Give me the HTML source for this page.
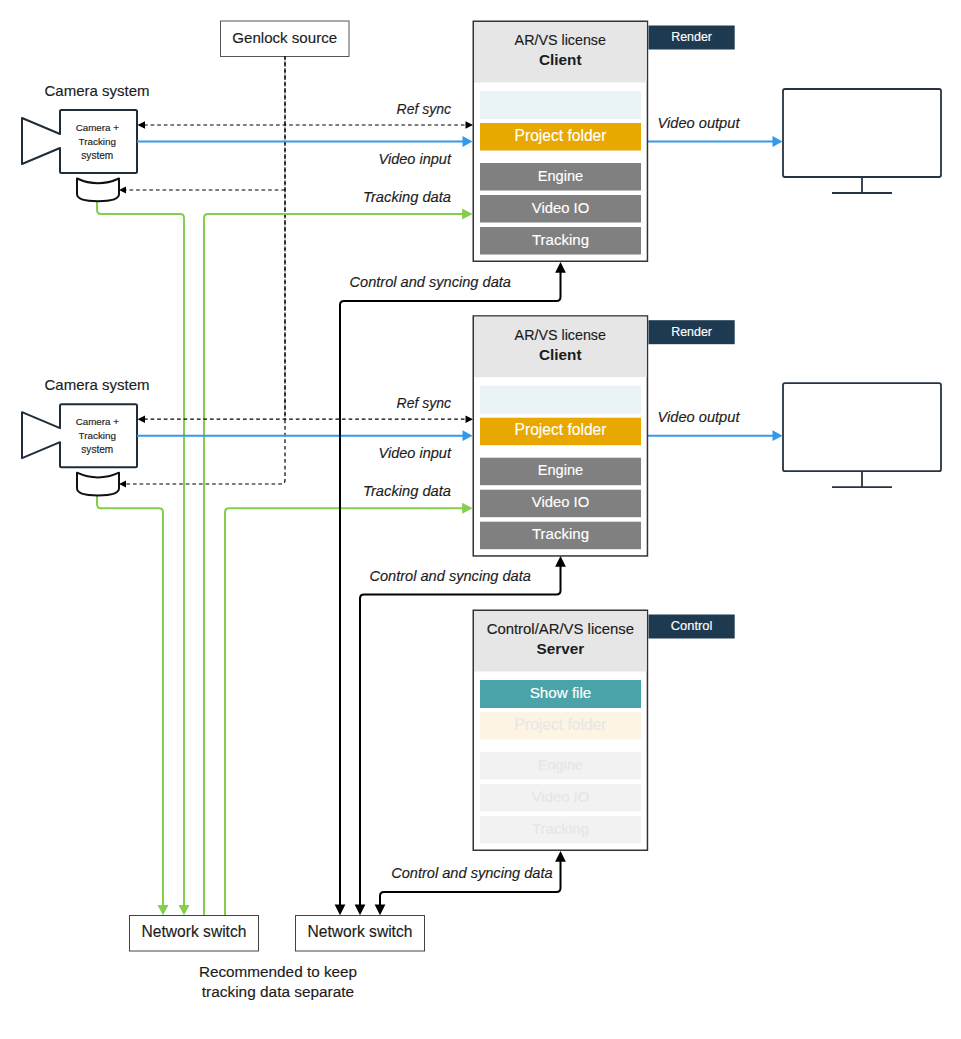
<!DOCTYPE html><html><head><meta charset="utf-8"><style>html,body{margin:0;padding:0;background:#fff;}svg{display:block;font-family:"Liberation Sans", sans-serif;}</style></head><body>
<svg width="961" height="1039" viewBox="0 0 961 1039">
<rect width="961" height="1039" fill="#fff"/>
<rect x="220.5" y="21" width="128.5" height="35.5" fill="#fff" stroke="#555" stroke-width="1"/>
<text x="284.7" y="42.5" font-size="15.1" text-anchor="middle" font-weight="normal" fill="#1c1c1c" stroke="#1c1c1c" stroke-width="0.15">Genlock source</text>
<path d="M285,56.5 L285,480 Q285,484 281,484 L126,484" fill="none" stroke="#000" stroke-width="1.2" stroke-dasharray="3.7 2.9"/>
<path d="M285,56.5 L285,419.5" fill="none" stroke="#000" stroke-width="1.2" stroke-dasharray="3.7 2.9" stroke-dashoffset="1.5"/>
<line x1="285" y1="190" x2="126" y2="190" stroke="#000" stroke-width="1.2" stroke-dasharray="3.7 2.9"/>
<polygon points="119.00,190.00 126.00,186.50 126.00,193.50" fill="#000"/>
<polygon points="119.00,484.00 126.00,480.50 126.00,487.50" fill="#000"/>
<path d="M97,201 L97,210 Q97,214 101,214 L180,214 Q184,214 184,218 L184,905" fill="none" stroke="#83cf4a" stroke-width="2" stroke-linejoin="round"/>
<polygon points="184.00,915.30 178.50,904.90 189.50,904.90" fill="#83cf4a"/>
<path d="M204,915 L204,218 Q204,214 208,214 L463,214" fill="none" stroke="#83cf4a" stroke-width="2" stroke-linejoin="round"/>
<polygon points="472.50,214.00 462.10,208.50 462.10,219.50" fill="#83cf4a"/>
<path d="M97,495 L97,504.2 Q97,508.2 101,508.2 L159,508.2 Q163,508.2 163,512.2 L163,905" fill="none" stroke="#83cf4a" stroke-width="2" stroke-linejoin="round"/>
<polygon points="163.00,915.30 157.50,904.90 168.50,904.90" fill="#83cf4a"/>
<path d="M225,915 L225,512.2 Q225,508.2 229,508.2 L463,508.2" fill="none" stroke="#83cf4a" stroke-width="2" stroke-linejoin="round"/>
<polygon points="472.50,508.20 462.10,502.70 462.10,513.70" fill="#83cf4a"/>
<text x="97" y="95.6" font-size="15.0" text-anchor="middle" font-weight="normal" fill="#1c1c1c" stroke="#1c1c1c" stroke-width="0.15">Camera system</text>
<path d="M60,134 L60,111.5 Q60,110 61.5,110 L135.5,110 Q137,110 137,111.5 L137,171.5 Q137,173 135.5,173 L61.5,173 Q60,173 60,171.5 L60,148 L22,164 L22,118 Z" fill="#fff" stroke="#1f2d3a" stroke-width="2" stroke-linejoin="round"/>
<text x="97.3" y="130.8" font-size="9.8" text-anchor="middle" font-weight="normal" fill="#1c1c1c" stroke="#1c1c1c" stroke-width="0.15">Camera +</text>
<text x="97.3" y="144.6" font-size="9.9" text-anchor="middle" font-weight="normal" fill="#1c1c1c" stroke="#1c1c1c" stroke-width="0.15">Tracking</text>
<text x="97.3" y="158.5" font-size="10.1" text-anchor="middle" font-weight="normal" fill="#1c1c1c" stroke="#1c1c1c" stroke-width="0.15">system</text>
<path d="M77,178.5 Q98,188 119,178.5 L119,194 C119,199.5 110,201.2 98,201.2 C86,201.2 77,199.5 77,194 Z" fill="#fff" stroke="#111" stroke-width="2" stroke-linejoin="round"/>
<rect x="783" y="89" width="158" height="88" rx="2" fill="#fff" stroke="#263340" stroke-width="1.8"/>
<line x1="862" y1="177" x2="862" y2="193" stroke="#263340" stroke-width="1.8"/>
<line x1="832" y1="193" x2="892" y2="193" stroke="#263340" stroke-width="1.8"/>
<line x1="137" y1="141.5" x2="463" y2="141.5" stroke="#3399ea" stroke-width="2"/>
<polygon points="472.50,141.50 462.50,136.10 462.50,146.90" fill="#3399ea"/>
<line x1="648" y1="141.5" x2="773" y2="141.5" stroke="#3399ea" stroke-width="2"/>
<polygon points="782.50,141.50 772.50,136.10 772.50,146.90" fill="#3399ea"/>
<line x1="144" y1="125" x2="465" y2="125" stroke="#000" stroke-width="1.2" stroke-dasharray="3.7 2.9"/>
<polygon points="137.50,125.00 145.00,121.25 145.00,128.75" fill="#000"/>
<polygon points="473.00,125.00 465.50,121.25 465.50,128.75" fill="#000"/>
<text x="451" y="114" font-size="14.0" text-anchor="end" font-weight="normal" fill="#1c1c1c" font-style="italic" stroke="#1c1c1c" stroke-width="0.15">Ref sync</text>
<text x="451" y="163.7" font-size="14.55" text-anchor="end" font-weight="normal" fill="#1c1c1c" font-style="italic" stroke="#1c1c1c" stroke-width="0.15">Video input</text>
<text x="451" y="201.6" font-size="14.7" text-anchor="end" font-weight="normal" fill="#1c1c1c" font-style="italic" stroke="#1c1c1c" stroke-width="0.15">Tracking data</text>
<text x="657.5" y="127.7" font-size="14.65" text-anchor="start" font-weight="normal" fill="#1c1c1c" font-style="italic" stroke="#1c1c1c" stroke-width="0.15">Video output</text>
<text x="97" y="389.79999999999995" font-size="15.0" text-anchor="middle" font-weight="normal" fill="#1c1c1c" stroke="#1c1c1c" stroke-width="0.15">Camera system</text>
<path d="M60,428.2 L60,405.7 Q60,404.2 61.5,404.2 L135.5,404.2 Q137,404.2 137,405.7 L137,465.7 Q137,467.2 135.5,467.2 L61.5,467.2 Q60,467.2 60,465.7 L60,442.2 L22,458.2 L22,412.2 Z" fill="#fff" stroke="#1f2d3a" stroke-width="2" stroke-linejoin="round"/>
<text x="97.3" y="425.0" font-size="9.8" text-anchor="middle" font-weight="normal" fill="#1c1c1c" stroke="#1c1c1c" stroke-width="0.15">Camera +</text>
<text x="97.3" y="438.79999999999995" font-size="9.9" text-anchor="middle" font-weight="normal" fill="#1c1c1c" stroke="#1c1c1c" stroke-width="0.15">Tracking</text>
<text x="97.3" y="452.7" font-size="10.1" text-anchor="middle" font-weight="normal" fill="#1c1c1c" stroke="#1c1c1c" stroke-width="0.15">system</text>
<path d="M77,472.7 Q98,482.2 119,472.7 L119,488.2 C119,493.7 110,495.4 98,495.4 C86,495.4 77,493.7 77,488.2 Z" fill="#fff" stroke="#111" stroke-width="2" stroke-linejoin="round"/>
<rect x="783" y="383.2" width="158" height="88" rx="2" fill="#fff" stroke="#263340" stroke-width="1.8"/>
<line x1="862" y1="471.2" x2="862" y2="487.2" stroke="#263340" stroke-width="1.8"/>
<line x1="832" y1="487.2" x2="892" y2="487.2" stroke="#263340" stroke-width="1.8"/>
<line x1="137" y1="435.7" x2="463" y2="435.7" stroke="#3399ea" stroke-width="2"/>
<polygon points="472.50,435.70 462.50,430.30 462.50,441.10" fill="#3399ea"/>
<line x1="648" y1="435.7" x2="773" y2="435.7" stroke="#3399ea" stroke-width="2"/>
<polygon points="782.50,435.70 772.50,430.30 772.50,441.10" fill="#3399ea"/>
<line x1="144" y1="419.2" x2="465" y2="419.2" stroke="#000" stroke-width="1.2" stroke-dasharray="3.7 2.9"/>
<polygon points="137.50,419.20 145.00,415.45 145.00,422.95" fill="#000"/>
<polygon points="473.00,419.20 465.50,415.45 465.50,422.95" fill="#000"/>
<text x="451" y="408.2" font-size="14.0" text-anchor="end" font-weight="normal" fill="#1c1c1c" font-style="italic" stroke="#1c1c1c" stroke-width="0.15">Ref sync</text>
<text x="451" y="457.9" font-size="14.55" text-anchor="end" font-weight="normal" fill="#1c1c1c" font-style="italic" stroke="#1c1c1c" stroke-width="0.15">Video input</text>
<text x="451" y="495.79999999999995" font-size="14.7" text-anchor="end" font-weight="normal" fill="#1c1c1c" font-style="italic" stroke="#1c1c1c" stroke-width="0.15">Tracking data</text>
<text x="657.5" y="421.9" font-size="14.65" text-anchor="start" font-weight="normal" fill="#1c1c1c" font-style="italic" stroke="#1c1c1c" stroke-width="0.15">Video output</text>
<rect x="473.25" y="21.25" width="174.20000000000005" height="240.0" fill="#fff" stroke="#333" stroke-width="1.5"/>
<rect x="474.0" y="22.0" width="172.70000000000005" height="60.5" fill="#e6e6e6"/>
<text x="560.3" y="45.0" font-size="14.3" text-anchor="middle" font-weight="normal" fill="#1c1c1c" stroke="#1c1c1c" stroke-width="0.15">AR/VS license</text>
<text x="560.3" y="64.8" font-size="15.3" text-anchor="middle" font-weight="bold" fill="#1c1c1c">Client</text>
<rect x="648.5" y="25.5" width="86.2" height="24" fill="#1e3a50"/>
<text x="691.6" y="40.8" font-size="12.45" text-anchor="middle" font-weight="normal" fill="#ffffff" stroke="#ffffff" stroke-width="0.15">Render</text>
<rect x="480" y="91.0" width="161" height="28" fill="#eaf3f5"/>
<rect x="480" y="123.0" width="161" height="27.5" fill="#e9a800"/>
<text x="560.5" y="140.7" font-size="15.6" text-anchor="middle" font-weight="normal" fill="#ffffff" stroke="#ffffff" stroke-width="0.15">Project folder</text>
<rect x="480" y="163.0" width="161" height="27.5" fill="#808080"/>
<text x="560.5" y="180.7" font-size="14.6" text-anchor="middle" font-weight="normal" fill="#ffffff" stroke="#ffffff" stroke-width="0.15">Engine</text>
<rect x="480" y="195.0" width="161" height="27.5" fill="#808080"/>
<text x="560.5" y="212.7" font-size="14.85" text-anchor="middle" font-weight="normal" fill="#ffffff" stroke="#ffffff" stroke-width="0.15">Video IO</text>
<rect x="480" y="227.0" width="161" height="27.5" fill="#808080"/>
<text x="560.5" y="244.7" font-size="15.0" text-anchor="middle" font-weight="normal" fill="#ffffff" stroke="#ffffff" stroke-width="0.15">Tracking</text>
<rect x="473.25" y="315.95" width="174.20000000000005" height="240.0" fill="#fff" stroke="#333" stroke-width="1.5"/>
<rect x="474.0" y="316.7" width="172.70000000000005" height="60.5" fill="#e6e6e6"/>
<text x="560.3" y="339.7" font-size="14.3" text-anchor="middle" font-weight="normal" fill="#1c1c1c" stroke="#1c1c1c" stroke-width="0.15">AR/VS license</text>
<text x="560.3" y="359.5" font-size="15.3" text-anchor="middle" font-weight="bold" fill="#1c1c1c">Client</text>
<rect x="648.5" y="320.2" width="86.2" height="24" fill="#1e3a50"/>
<text x="691.6" y="335.5" font-size="12.45" text-anchor="middle" font-weight="normal" fill="#ffffff" stroke="#ffffff" stroke-width="0.15">Render</text>
<rect x="480" y="385.7" width="161" height="28" fill="#eaf3f5"/>
<rect x="480" y="417.7" width="161" height="27.5" fill="#e9a800"/>
<text x="560.5" y="435.4" font-size="15.6" text-anchor="middle" font-weight="normal" fill="#ffffff" stroke="#ffffff" stroke-width="0.15">Project folder</text>
<rect x="480" y="457.7" width="161" height="27.5" fill="#808080"/>
<text x="560.5" y="475.4" font-size="14.6" text-anchor="middle" font-weight="normal" fill="#ffffff" stroke="#ffffff" stroke-width="0.15">Engine</text>
<rect x="480" y="489.7" width="161" height="27.5" fill="#808080"/>
<text x="560.5" y="507.4" font-size="14.85" text-anchor="middle" font-weight="normal" fill="#ffffff" stroke="#ffffff" stroke-width="0.15">Video IO</text>
<rect x="480" y="521.7" width="161" height="27.5" fill="#808080"/>
<text x="560.5" y="539.4000000000001" font-size="15.0" text-anchor="middle" font-weight="normal" fill="#ffffff" stroke="#ffffff" stroke-width="0.15">Tracking</text>
<rect x="473.25" y="610.25" width="174.20000000000005" height="240.0" fill="#fff" stroke="#333" stroke-width="1.5"/>
<rect x="474.0" y="611.0" width="172.70000000000005" height="60.5" fill="#e6e6e6"/>
<text x="560.3" y="634.0" font-size="14.9" text-anchor="middle" font-weight="normal" fill="#1c1c1c" stroke="#1c1c1c" stroke-width="0.15">Control/AR/VS license</text>
<text x="560.3" y="653.8" font-size="15.3" text-anchor="middle" font-weight="bold" fill="#1c1c1c">Server</text>
<rect x="648.5" y="614.5" width="86.2" height="24" fill="#1e3a50"/>
<text x="691.6" y="629.8" font-size="12.9" text-anchor="middle" font-weight="normal" fill="#ffffff" stroke="#ffffff" stroke-width="0.15">Control</text>
<rect x="480" y="680.0" width="161" height="28" fill="#4aa3a8"/>
<text x="560.5" y="697.7" font-size="15.2" text-anchor="middle" font-weight="normal" fill="#ffffff" stroke="#ffffff" stroke-width="0.15">Show file</text>
<rect x="480" y="712.0" width="161" height="27.5" fill="#fdf4e4"/>
<text x="560.5" y="729.7" font-size="15.6" text-anchor="middle" font-weight="normal" fill="#e8e8e8" stroke="#e8e8e8" stroke-width="0.15">Project folder</text>
<rect x="480" y="752.0" width="161" height="27.5" fill="#f2f2f2"/>
<text x="560.5" y="769.7" font-size="14.6" text-anchor="middle" font-weight="normal" fill="#e6e6e6" stroke="#e6e6e6" stroke-width="0.15">Engine</text>
<rect x="480" y="784.0" width="161" height="27.5" fill="#f2f2f2"/>
<text x="560.5" y="801.7" font-size="14.85" text-anchor="middle" font-weight="normal" fill="#e6e6e6" stroke="#e6e6e6" stroke-width="0.15">Video IO</text>
<rect x="480" y="816.0" width="161" height="27.5" fill="#f2f2f2"/>
<text x="560.5" y="833.7" font-size="15.0" text-anchor="middle" font-weight="normal" fill="#e6e6e6" stroke="#e6e6e6" stroke-width="0.15">Tracking</text>
<path d="M340,905 L340,305 Q340,301 344,301 L556.5,301 Q560.5,301 560.5,297 L560.5,272" fill="none" stroke="#000" stroke-width="2" stroke-linejoin="round"/>
<polygon points="560.50,262.00 555.15,272.80 565.85,272.80" fill="#000"/>
<polygon points="340.00,915.30 334.65,904.50 345.35,904.50" fill="#000"/>
<path d="M360,905 L360,598.5 Q360,594.5 364,594.5 L556.5,594.5 Q560.5,594.5 560.5,590.5 L560.5,566" fill="none" stroke="#000" stroke-width="2" stroke-linejoin="round"/>
<polygon points="560.50,556.00 555.15,566.80 565.85,566.80" fill="#000"/>
<polygon points="360.00,915.30 354.65,904.50 365.35,904.50" fill="#000"/>
<path d="M380,905 L380,896 Q380,892 384,892 L556.5,892 Q560.5,892 560.5,888 L560.5,861" fill="none" stroke="#000" stroke-width="2" stroke-linejoin="round"/>
<polygon points="560.50,851.00 555.15,861.80 565.85,861.80" fill="#000"/>
<polygon points="380.00,915.30 374.65,904.50 385.35,904.50" fill="#000"/>
<text x="349.5" y="286.7" font-size="14.6" text-anchor="start" font-weight="normal" fill="#1c1c1c" font-style="italic" stroke="#1c1c1c" stroke-width="0.15">Control and syncing data</text>
<text x="369.4" y="580.9" font-size="14.6" text-anchor="start" font-weight="normal" fill="#1c1c1c" font-style="italic" stroke="#1c1c1c" stroke-width="0.15">Control and syncing data</text>
<text x="552.6" y="878" font-size="14.6" text-anchor="end" font-weight="normal" fill="#1c1c1c" font-style="italic" stroke="#1c1c1c" stroke-width="0.15">Control and syncing data</text>
<rect x="129.5" y="915.5" width="129" height="35.5" fill="#fff" stroke="#444" stroke-width="1"/>
<text x="194" y="937.3" font-size="15.6" text-anchor="middle" font-weight="normal" fill="#1c1c1c" stroke="#1c1c1c" stroke-width="0.15">Network switch</text>
<rect x="295.5" y="915.5" width="129" height="35.5" fill="#fff" stroke="#444" stroke-width="1"/>
<text x="360" y="937.3" font-size="15.6" text-anchor="middle" font-weight="normal" fill="#1c1c1c" stroke="#1c1c1c" stroke-width="0.15">Network switch</text>
<text x="278" y="976.6" font-size="15.3" text-anchor="middle" font-weight="normal" fill="#1c1c1c" stroke="#1c1c1c" stroke-width="0.15">Recommended to keep</text>
<text x="278" y="997.2" font-size="15.4" text-anchor="middle" font-weight="normal" fill="#1c1c1c" stroke="#1c1c1c" stroke-width="0.15">tracking data separate</text>
</svg></body></html>
